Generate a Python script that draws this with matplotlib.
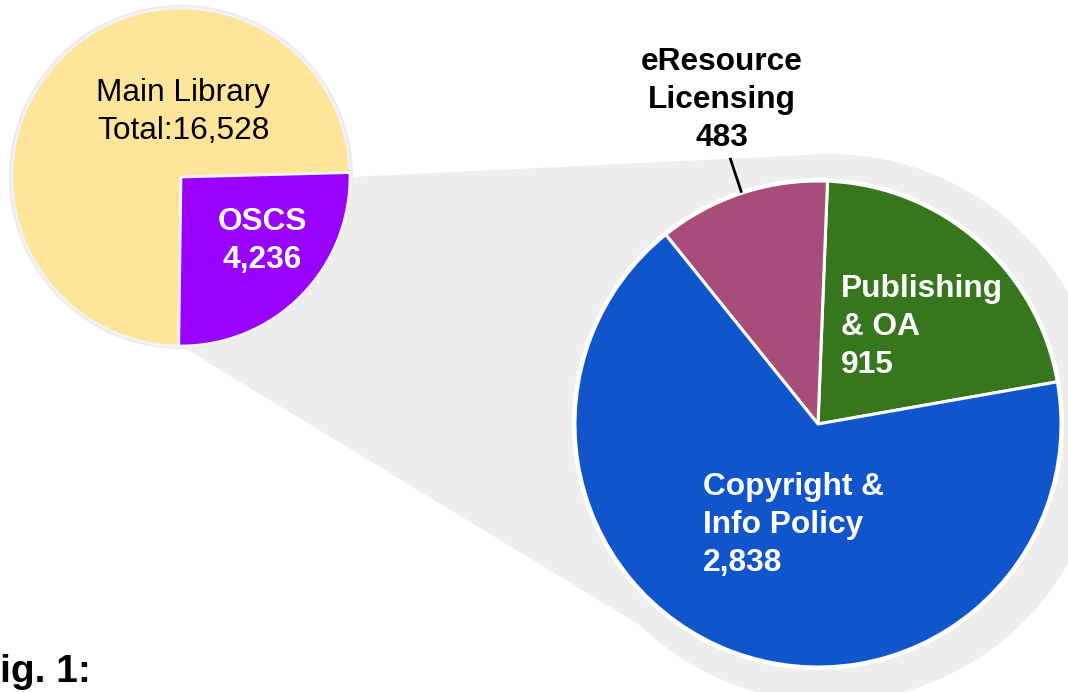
import numpy as np
import matplotlib.pyplot as plt
from matplotlib.patches import Circle, Polygon

plt.rcParams['font.family'] = ['Liberation Sans', 'DejaVu Sans']

# data
main_labels = ['Main Library', 'OSCS']
main_values = [12292, 4236]
main_total = 16528
oscs_labels = ['Publishing\n& OA', 'eResource\nLicensing', 'Copyright &\nInfo Policy']
oscs_values = [915, 483, 2838]

main_colors = ['#FFE599', '#9900FF']
oscs_colors = ['#38761D', '#A64D79', '#1155CC']

W, H = 1068, 692
fig = plt.figure(figsize=(W / 100, H / 100), dpi=100)
ax = fig.add_axes([0, 0, 1, 1])


def Y(py):
    # pixel row -> data y (y up)
    return H - py


# geometry (pixels)
small_c, small_r = (181, Y(177)), 169
big_c, big_r = (818, Y(424)), 243
shadow_c, shadow_r = (830, Y(428)), 274


def on_circle(c, r, ang):
    a = np.deg2rad(ang)
    return (c[0] + r * np.cos(a), c[1] + r * np.sin(a))


# grey connector + shadow
grey = '#EEEEEE'
conn = [on_circle(small_c, small_r, 0), on_circle(shadow_c, shadow_r, 95), shadow_c,
        on_circle(shadow_c, shadow_r, 226), on_circle(small_c, small_r, 270), small_c]
ax.add_patch(Polygon(conn, closed=True, facecolor=grey, edgecolor='none', zorder=0))
ax.add_patch(Circle(shadow_c, shadow_r, facecolor=grey, edgecolor='none', zorder=0))
ax.add_patch(Circle(small_c, small_r + 3, facecolor='#EBEBEB', edgecolor='none', zorder=0))
ax.add_patch(Circle(big_c, big_r + 3, facecolor='white', edgecolor='none', zorder=0))

# small pie
ax.pie(main_values, colors=main_colors, center=small_c, radius=small_r,
       startangle=1.5, counterclock=True,
       wedgeprops=dict(edgecolor='#F3F3F3', linewidth=2))

# big pie
wedges, _ = ax.pie(oscs_values, colors=oscs_colors, center=big_c, radius=big_r,
                   startangle=10, counterclock=True,
                   wedgeprops=dict(edgecolor='white', linewidth=2.2))

fs = 22.8
ls = 1.36
ax.text(183, Y(112), f'{main_labels[0]}\nTotal:{main_total:,}', ha='center', va='center',
        fontsize=fs, color='black', linespacing=ls)
ax.text(262, Y(241), f'{main_labels[1]}\n{main_values[1]:,}', ha='center', va='center',
        fontsize=fs, color='white', fontweight='bold', linespacing=ls)

ax.text(841, Y(327), f'{oscs_labels[0]}\n{oscs_values[0]:,}', ha='left', va='center',
        fontsize=fs, color='white', fontweight='bold', linespacing=ls)
ax.text(703, Y(525), f'{oscs_labels[2]}\n{oscs_values[2]:,}', ha='left', va='center',
        fontsize=fs, color='white', fontweight='bold', linespacing=ls)
ax.text(722, Y(100), f'{oscs_labels[1]}\n{oscs_values[1]:,}', ha='center', va='center',
        fontsize=fs, color='black', fontweight='bold', linespacing=ls)

# leader line for eResource
w = wedges[1]
mid = (w.theta1 + w.theta2) / 2
p0 = on_circle(big_c, big_r + 2, mid)
p1 = on_circle(big_c, big_r + 36, mid)
ax.plot([p0[0], p1[0]], [p0[1], p1[1]], color='black', lw=2, zorder=5)

ax.text(0, Y(682), 'ig. 1:', ha='left', va='baseline', fontsize=28,
        fontweight='bold', color='black')

ax.set_xlim(0, W)
ax.set_ylim(0, H)
ax.set_aspect('equal')
ax.axis('off')

fig.savefig('out.png', dpi=100)
